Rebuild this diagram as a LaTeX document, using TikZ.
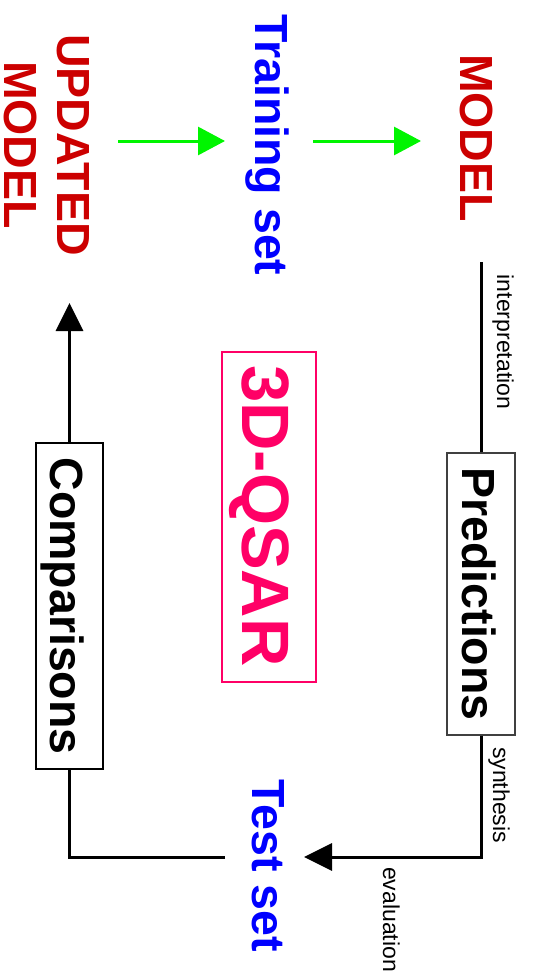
\documentclass[tikz,border=0pt]{standalone}
\usepackage{fontspec}
\setmainfont{Liberation Sans}
\usetikzlibrary{arrows.meta}
\definecolor{myred}{RGB}{204,0,0}
\definecolor{myblue}{RGB}{0,0,255}
\definecolor{mygreen}{RGB}{0,245,0}
\definecolor{mypink}{RGB}{255,0,102}
\tikzset{
  big/.style={rotate=-90, anchor=base, inner sep=0pt, font=\fontsize{46.5}{52}\selectfont\bfseries},
  lbl/.style={rotate=-90, anchor=base, inner sep=0pt, font=\fontsize{23}{26}\selectfont},
  boxnode/.style={draw, line width=1.3pt, rotate=-90, inner sep=0pt, font=\fontsize{46.5}{52}\selectfont\bfseries},
  garrow/.style={draw=mygreen, line width=3pt, -{Triangle[length=27pt,width=28pt]}},
  barrow/.style={draw=black, line width=3pt, -{Triangle[length=28pt,width=27pt]}},
  bline/.style={draw=black, line width=3pt},
}
\begin{document}
\begin{tikzpicture}[x=1pt,y=-1pt]
\useasboundingbox (0,0) rectangle (538,977);
% text nodes
\node[big, text=myred] (upd) at (57,145) {UPDATED};
\node[big, text=myred] (updm) at (4.5,145) {MODEL};
\node[big, text=myblue] (train) at (255,145) {Training set};
\node[big, text=myred] (model) at (460,138) {MODEL};
\node[big, text=myblue] (test) at (252,866) {Test set};
% boxes
\node[boxnode, draw=black!75, minimum width=282pt, minimum height=68pt] (pred) at (481,594) {};
\node[big] (predt) at (462,594) {Predictions};
\node[boxnode, minimum width=326pt, minimum height=67pt] (comp) at (69.5,606) {};
\node[big] (compt) at (50,606) {Comparisons};
\node[boxnode, draw=mypink, line width=1.5pt, minimum width=330pt, minimum height=94pt] (qbox) at (269,517) {};
\node[rotate=-90, anchor=base, inner sep=0pt, text=mypink, font=\fontsize{67}{72}\selectfont\bfseries] (qsar) at (242,516) {3D-QSAR};
% labels
\node[lbl] (interp) at (497,342) {interpretation};
\node[lbl] (synth) at (493,795) {synthesis};
\node[lbl] (evalu) at (383,919.5) {evaluation};
% coordinates
\coordinate (g1s) at (118,141);
\coordinate (g1e) at (225,141);
\coordinate (g2s) at (313,141);
\coordinate (g2e) at (421,141);
\coordinate (itop) at (481,262);
\coordinate (ttip) at (304,857);
\coordinate (tleft) at (225,857);
\coordinate (utip) at (69.5,303);
% connectors
\draw[garrow] (g1s) -- (g1e);
\draw[garrow] (g2s) -- (g2e);
\draw[bline] (itop) -- (pred.west);
\draw[barrow] (pred.east) |- (ttip);
\draw[bline] (tleft) -| (comp.east);
\draw[barrow] (comp.west) -- (utip);
\end{tikzpicture}
\end{document}
